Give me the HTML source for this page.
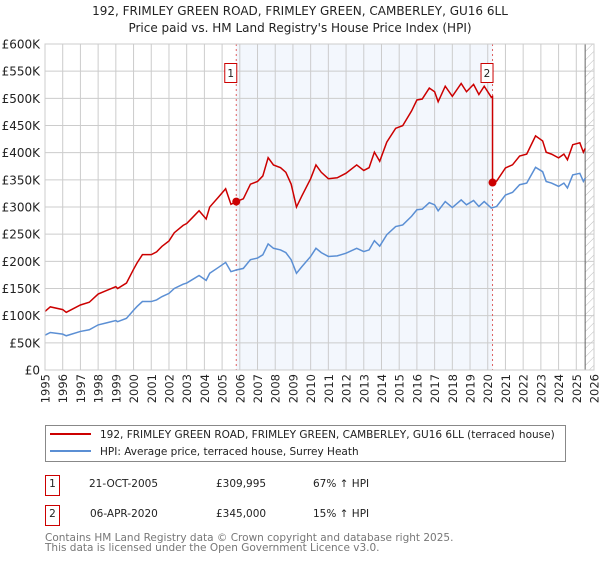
<!DOCTYPE html>
<html><head><meta charset="utf-8"><style>
body{margin:0;background:#fff;}
svg text{font-family:"DejaVu Sans","Liberation Sans",sans-serif;}
</style></head><body>
<svg id="chart" width="600" height="560" viewBox="0 0 600 560" xmlns="http://www.w3.org/2000/svg">
<text x="300" y="15" text-anchor="middle" font-size="12" fill="#222">192, FRIMLEY GREEN ROAD, FRIMLEY GREEN, CAMBERLEY, GU16 6LL</text>
<text x="300" y="32" text-anchor="middle" font-size="12" fill="#222">Price paid vs. HM Land Registry's House Price Index (HPI)</text>
<defs><pattern id="hatch" width="6" height="6" patternUnits="userSpaceOnUse" patternTransform="rotate(45)"><line x1="0" y1="0" x2="0" y2="6" stroke="#bbb" stroke-width="1"/></pattern></defs>
<g id="plot"></g>
<g>
<rect x="45.5" y="425.5" width="520" height="36" fill="#fff" stroke="#888"/>
<line x1="50" y1="434" x2="91" y2="434" stroke="#cc0000" stroke-width="2"/>
<text x="100" y="438" font-size="10.5" fill="#222">192, FRIMLEY GREEN ROAD, FRIMLEY GREEN, CAMBERLEY, GU16 6LL (terraced house)</text>
<line x1="50" y1="451" x2="91" y2="451" stroke="#5b8fd4" stroke-width="2"/>
<text x="100" y="455" font-size="10.5" fill="#222">HPI: Average price, terraced house, Surrey Heath</text>
</g>
<g font-size="10.5" fill="#222">
<rect x="45.5" y="475.5" width="14" height="20" fill="#fff" stroke="#cc0000"/>
<text x="52.5" y="487" text-anchor="middle">1</text>
<text x="89" y="487">21-OCT-2005</text><text x="216" y="487">£309,995</text><text x="313" y="487">67% ↑ HPI</text>
<rect x="45.5" y="505.5" width="14" height="20" fill="#fff" stroke="#cc0000"/>
<text x="52.5" y="517" text-anchor="middle">2</text>
<text x="90" y="517">06-APR-2020</text><text x="216" y="517">£345,000</text><text x="313" y="517">15% ↑ HPI</text>
</g>
<text x="45" y="541" font-size="10.5" fill="#777">Contains HM Land Registry data © Crown copyright and database right 2025.</text>
<text x="45" y="551" font-size="10.5" fill="#777">This data is licensed under the Open Government Licence v3.0.</text>
</svg>
<script>
const hpiYears=[1995,1995.3,1996,1996.2,1997,1997.5,1998,1998.5,1999,1999.1,1999.6,2000,2000.2,2000.5,2001,2001.3,2001.6,2002,2002.3,2002.8,2003,2003.3,2003.7,2004.1,2004.3,2004.8,2005.2,2005.5,2005.8,2006.2,2006.6,2007,2007.3,2007.6,2007.9,2008.3,2008.6,2008.9,2009.2,2009.5,2010,2010.3,2010.6,2011,2011.5,2012,2012.6,2013,2013.3,2013.6,2013.9,2014.3,2014.8,2015.2,2015.7,2016,2016.3,2016.7,2017,2017.2,2017.6,2018,2018.5,2018.8,2019.2,2019.5,2019.8,2020.2,2020.5,2021,2021.4,2021.8,2022.2,2022.7,2023.1,2023.3,2023.6,2024,2024.3,2024.5,2024.8,2025.2,2025.4,2025.5];
const hpiValues=[64,69,66,63,71,74,83,87,91,89,95,110,117,126,126,129,135,141,150,158,160,166,174,165,178,189,198,181,184,187,203,206,212,232,224,221,216,203,178,190,209,224,216,209,210,215,224,218,221,238,228,249,264,267,283,295,296,308,304,293,310,299,313,304,312,301,310,298,301,322,327,341,344,373,365,347,344,338,344,335,359,362,347,353];
const saleYears=[2005.8,2020.27];
const salePrices=[309.995,345];
const saleLabels=['1','2'];
const yTicks=[0,50,100,150,200,250,300,350,400,450,500,550,600];
const yTickLabels=['£0','£50K','£100K','£150K','£200K','£250K','£300K','£350K','£400K','£450K','£500K','£550K','£600K'];
const xTicks=[1995,1996,1997,1998,1999,2000,2001,2002,2003,2004,2005,2006,2007,2008,2009,2010,2011,2012,2013,2014,2015,2016,2017,2018,2019,2020,2021,2022,2023,2024,2025,2026];

const L=45,R=594,T=44,B=370,x0=1995,x1=2026,yMax=600;
const X=v=>L+(v-x0)/(x1-x0)*(R-L);
const Y=v=>B-v/yMax*(B-T);
const NS='http://www.w3.org/2000/svg';
const g=document.getElementById('plot');
function mk(t,a,p){const e=document.createElementNS(NS,t);for(const k in a)e.setAttribute(k,a[k]);(p||g).appendChild(e);return e;}
function hpiAt(yr){for(let i=1;i<hpiYears.length;i++){if(yr<=hpiYears[i]){const f=(yr-hpiYears[i-1])/(hpiYears[i]-hpiYears[i-1]);return hpiValues[i-1]+f*(hpiValues[i]-hpiValues[i-1]);}}return hpiValues[hpiValues.length-1];}
const sh=mk('rect',{x:X(saleYears[0]),y:T,width:X(saleYears[1])-X(saleYears[0]),height:B-T,fill:'#eef3fc',opacity:0.7});


const hx=mk('rect',{x:X(2025.5),y:T,width:R-X(2025.5),height:B-T,fill:'url(#hatch)'});


xTicks.forEach(t=>{const l=mk('line',{x1:X(t),x2:X(t),y1:T,y2:B,stroke:'#ccc','stroke-width':1});


const tx=mk('text',{x:0,y:0,transform:`translate(${X(t)+4.5},${B+4}) rotate(-90)`,'text-anchor':'end','font-size':'11.5',fill:'#222'});tx.textContent=t;

});
yTicks.forEach((t,i)=>{const l=mk('line',{x1:L,x2:R,y1:Y(t),y2:Y(t),stroke:'#ccc','stroke-width':1});


const tx=mk('text',{x:40,y:Y(t)+4.5,'text-anchor':'end','font-size':'12',fill:'#222'});tx.textContent=yTickLabels[i];

});
const vl=mk('line',{x1:X(2025.5),x2:X(2025.5),y1:T,y2:B,stroke:'#666','stroke-width':1});


saleYears.forEach((s,i)=>{const l=mk('line',{x1:X(s),x2:X(s),y1:T,y2:B,stroke:'#e06060','stroke-dasharray':'2,3','stroke-width':1});

});
const hp=mk('polyline',{points:hpiYears.map((y,i)=>X(y)+','+Y(hpiValues[i])).join(' '),fill:'none',stroke:'#5b8fd4','stroke-width':1.5});


const r1=salePrices[0]/hpiAt(saleYears[0]),r2=salePrices[1]/hpiAt(saleYears[1]);
let pts=[];
hpiYears.forEach((y,i)=>{if(y<saleYears[1])pts.push([y,hpiValues[i]*r1]);});
pts.push([saleYears[1],hpiAt(saleYears[1])*r1]);
pts.push([saleYears[1],salePrices[1]]);
hpiYears.forEach((y,i)=>{if(y>saleYears[1])pts.push([y,hpiValues[i]*r2]);});
const pl=mk('polyline',{points:pts.map(p=>X(p[0])+','+Y(p[1])).join(' '),fill:'none',stroke:'#cc0000','stroke-width':1.5});


saleYears.forEach((s,i)=>{const c=mk('circle',{cx:X(s),cy:Y(salePrices[i]),r:4,fill:'#cc0000'});


const bx=mk('rect',{x:X(s)-11.5,y:63.5,width:12,height:19,fill:'#fff',stroke:'#cc0000'});


const t=mk('text',{x:X(s)-5.5,y:77,'text-anchor':'middle','font-size':'10.5',fill:'#222'});t.textContent=saleLabels[i];

});
const fr=mk('rect',{x:L,y:T,width:R-L,height:B-T,fill:'none',stroke:'#ccc'});


</script>
</body></html>
